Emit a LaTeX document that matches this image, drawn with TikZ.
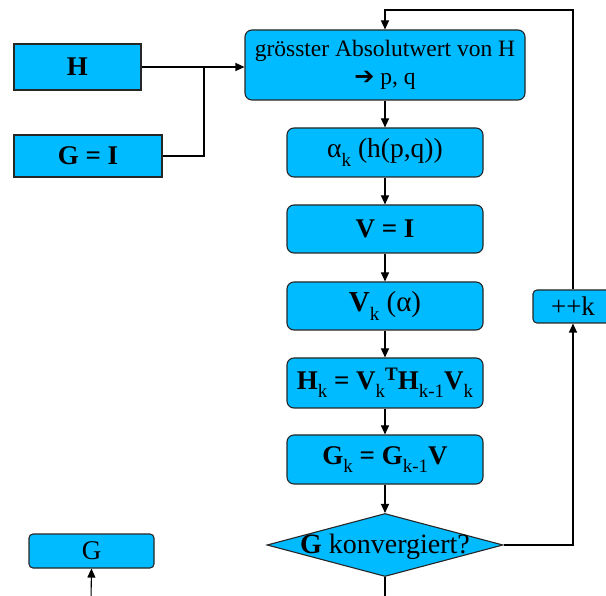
\documentclass[tikz,border=0pt]{standalone}
\usepackage{fontspec}
\setmainfont{Liberation Serif}
\newfontfamily\symfont{DejaVu Sans}
\usetikzlibrary{arrows.meta,shapes.geometric}
\definecolor{boxfill}{RGB}{0,187,255}
% subscript / superscript in the flowchart labels
\newcommand\lowidx[1]{\raisebox{-0.3em}{\fontsize{19}{19}\selectfont\mdseries #1}}
\newcommand\highidx[1]{\raisebox{0.35em}{\fontsize{19}{19}\selectfont #1}}
\begin{document}
\begin{tikzpicture}[x=1pt,y=-1pt,
  line width=1.1pt,
  >={Triangle[length=9pt,width=8pt]},
  flowbox/.style={draw=black!85,fill=boxfill,rounded corners=7pt,inner sep=0pt,
    minimum width=196pt,minimum height=48pt,align=center,
    font=\fontsize{27}{30}\selectfont},
  inbox/.style={draw=black!85,fill=boxfill,inner sep=0pt,
    font=\fontsize{27}{30}\selectfont\bfseries},
  link/.style={draw=black,line width=1.1pt}]
\clip (0,0) rectangle (606,596);
\fill[white] (0,0) rectangle (606,596);

% inputs
\node[inbox,minimum width=127pt,minimum height=46pt] (h) at (77.5,67) {H};
\node[inbox,minimum width=148pt,minimum height=42pt] (gi) at (88,156) {G = I};

% main column
\node[flowbox,minimum width=280pt,minimum height=70pt,
  font=\fontsize{23.5}{28}\selectfont] (top) at (385,65)
  {grösster Absolutwert von H\\{\symfont\bfseries\fontsize{24}{24}\selectfont ➔} p, q};
\node[flowbox,minimum height=49pt,font=\fontsize{27.5}{30}\selectfont] (alpha) at (385,152.5)
  {α\lowidx{k} (h(p,q))};
\node[flowbox] (vi) at (385,229) {\bfseries V = I};
\node[flowbox,font=\fontsize{29}{32}\selectfont] (vk) at (385,306) {\textbf{V}\lowidx{k} (α)};
\node[flowbox,minimum height=50pt] (hk) at (385,383)
  {\bfseries H\lowidx{k} = V\lowidx{k}\highidx{T}H\lowidx{k-1}V\lowidx{k}};
\node[flowbox,minimum height=49pt] (gk) at (385,459.5)
  {\bfseries G\lowidx{k} = G\lowidx{k-1}V};

% decision
\node[draw=black!85,fill=boxfill,diamond,inner sep=0pt,aspect=3.75,
  minimum width=236pt,minimum height=63pt] (conv) at (385,545) {};
\node[font=\fontsize{28}{30}\selectfont,inner sep=0pt] (convtxt) at (385,547)
  {\textbf{G} konvergiert?};

% loop counter and output
\node[flowbox,rounded corners=4pt,minimum width=80pt,minimum height=33pt,
  font=\fontsize{27}{28}\selectfont] (inc) at (573,306.5) {++k};
\node[flowbox,rounded corners=4pt,minimum width=125pt,minimum height=34pt,
  font=\fontsize{27}{28}\selectfont] (gout) at (91.5,551) {G};

% helper points for the connectors
\coordinate (join) at (204,67);
\coordinate (loop) at (573,10);
\coordinate (exit) at (385,600);
\coordinate (gin) at (91,600);

% connectors
\draw[link,->] (h.east) -- (h.east -| top.west);
\draw[link] (gi.east) -| (join);
\draw[link,->] (top) -- (alpha);
\draw[link,->] (alpha) -- (vi);
\draw[link,->] (vi) -- (vk);
\draw[link,->] (vk) -- (hk);
\draw[link,->] (hk) -- (gk);
\draw[link,->] (gk) -- (conv.north);
\draw[link] (conv.south) -- (exit);
\draw[link,->] (conv.east) -| (inc.south);
\draw[link,->] (inc.north) -- (loop) -| (top.north);
\draw[link,->] (gin) -- (gout.south);
\end{tikzpicture}
\end{document}
